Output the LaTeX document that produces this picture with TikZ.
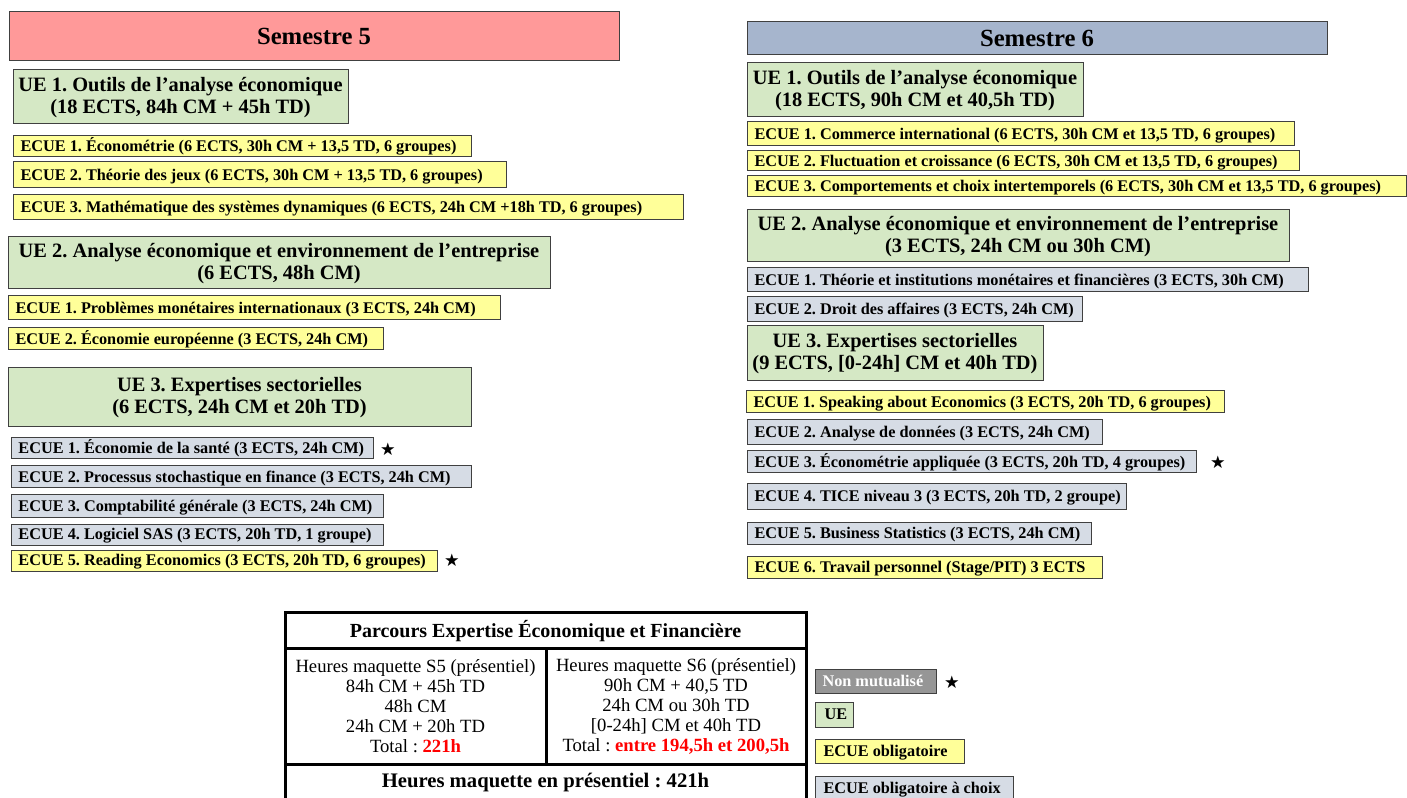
\documentclass[tikz,border=0pt]{standalone}
\usepackage{fontspec}
\setmainfont{Liberation Serif}
\newfontfamily\symbfont{DejaVu Sans}
\frenchspacing

\tikzset{every picture/.style={line width=0.75pt}}
\tikzset{
  boxline/.style={draw={rgb, 255:red, 64; green, 64; blue, 64 }, line width=0.75pt},
  semfive/.style={boxline, fill={rgb, 255:red, 255; green, 153; blue, 153 }},
  semsix/.style={boxline, fill={rgb, 255:red, 166; green, 181; blue, 205 }},
  uefill/.style={boxline, fill={rgb, 255:red, 213; green, 232; blue, 197 }},
  ecueoblig/.style={boxline, fill={rgb, 255:red, 255; green, 255; blue, 153 }},
  ecuechoix/.style={boxline, fill={rgb, 255:red, 214; green, 220; blue, 229 }},
  nonmut/.style={boxline, fill={rgb, 255:red, 150; green, 150; blue, 150 }},
  semtext/.style={inner sep=0pt, text height=15pt, text depth=2.8pt, font=\bfseries\fontsize{18.5}{22}\selectfont},
  uetext/.style={inner sep=0pt, align=center, font=\bfseries\fontsize{15.3}{16.5}\selectfont},
  ecuetext/.style={anchor=west, inner sep=0pt, text height=10.3pt, text depth=2.3pt, font=\bfseries\fontsize{12.2}{14}\selectfont},
  startext/.style={inner sep=0pt, font=\symbfont\fontsize{13}{14}\selectfont},
  celltext/.style={inner sep=0pt, align=center, font=\fontsize{14}{15}\selectfont},
  tabline/.style={line width=2.25pt},
}

\begin{document}
\begin{tikzpicture}[x=0.75pt,y=0.75pt,yscale=-1,xscale=1]
\path[use as bounding box] (0,0) rectangle (1407,798);
\clip (0,0) rectangle (1407,798);

%%%%%%%%%%%%%%%%%%%%%% Semestre 5
%Shape: Rectangle
\draw [semfive] (9,12) rectangle (619,61);
% Text Node
\node (sfivehead) at (314,36.5) [semtext] {Semestre 5};

%Shape: Rectangle
\draw [uefill] (13,70) rectangle (348,124);
% Text Node
\node (sfiveueone) at (180.5,97.5) [uetext] {UE 1. Outils de l’analyse économique\\(18 ECTS, 84h CM + 45h TD)};
%Shape: Rectangle
\draw [ecueoblig] (13,136) rectangle (471,157);
\node (sfiveueonea) at (20,146.5) [ecuetext] {ECUE 1. Économétrie (6 ECTS, 30h CM + 13,5 TD, 6 groupes)};
%Shape: Rectangle
\draw [ecueoblig] (13,162) rectangle (506,188);
\node (sfiveueoneb) at (20,175) [ecuetext] {ECUE 2. Théorie des jeux (6 ECTS, 30h CM + 13,5 TD, 6 groupes)};
%Shape: Rectangle
\draw [ecueoblig] (13,195) rectangle (683,220);
\node (sfiveueonec) at (20,207.5) [ecuetext] {ECUE 3. Mathématique des systèmes dynamiques (6 ECTS, 24h CM +18h TD, 6 groupes)};

%Shape: Rectangle
\draw [uefill] (8,237) rectangle (550,289);
% Text Node
\node (sfiveuetwo) at (279,263.5) [uetext] {UE 2. Analyse économique et environnement de l’entreprise\\(6 ECTS, 48h CM)};
%Shape: Rectangle
\draw [ecueoblig] (8,296) rectangle (500,320);
\node (sfiveuetwoa) at (15,308) [ecuetext] {ECUE 1. Problèmes monétaires internationaux (3 ECTS, 24h CM)};
%Shape: Rectangle
\draw [ecueoblig] (8,328) rectangle (383,350);
\node (sfiveuetwob) at (15,339) [ecuetext] {ECUE 2. Économie européenne (3 ECTS, 24h CM)};

%Shape: Rectangle
\draw [uefill] (8,368) rectangle (471,427);
% Text Node
\node (sfiveuethree) at (239.5,398) [uetext] {UE 3. Expertises sectorielles\\(6 ECTS, 24h CM et 20h TD)};
%Shape: Rectangle
\draw [ecuechoix] (11,438) rectangle (373,459);
\node (sfiveuethreea) at (18,448.5) [ecuetext] {ECUE 1. Économie de la santé (3 ECTS, 24h CM)};
\node (stara) at (388,449) [startext] {★};
%Shape: Rectangle
\draw [ecuechoix] (11,466) rectangle (471,488);
\node (sfiveuethreeb) at (18,477) [ecuetext] {ECUE 2. Processus stochastique en finance (3 ECTS, 24h CM)};
%Shape: Rectangle
\draw [ecuechoix] (11,495) rectangle (383,517);
\node (sfiveuethreec) at (18,506) [ecuetext] {ECUE 3. Comptabilité générale (3 ECTS, 24h CM)};
%Shape: Rectangle
\draw [ecuechoix] (11,524) rectangle (383,545);
\node (sfiveuethreed) at (18,534.5) [ecuetext] {ECUE 4. Logiciel SAS (3 ECTS, 20h TD, 1 groupe)};
%Shape: Rectangle
\draw [ecueoblig] (11,550) rectangle (437,571);
\node (sfiveuethreee) at (18,560.5) [ecuetext] {ECUE 5. Reading Economics (3 ECTS, 20h TD, 6 groupes)};
\node (starb) at (452,560) [startext] {★};

%%%%%%%%%%%%%%%%%%%%%% Semestre 6
%Shape: Rectangle
\draw [semsix] (747,22) rectangle (1327,55);
% Text Node
\node (ssixhead) at (1037,38.5) [semtext] {Semestre 6};

%Shape: Rectangle
\draw [uefill] (747,63) rectangle (1083,117);
% Text Node
\node (ssixueone) at (915,90.5) [uetext] {UE 1. Outils de l’analyse économique\\(18 ECTS, 90h CM et 40,5h TD)};
%Shape: Rectangle
\draw [ecueoblig] (747,122) rectangle (1294,146);
\node (ssixueonea) at (754,134) [ecuetext] {ECUE 1. Commerce international (6 ECTS, 30h CM et 13,5 TD, 6 groupes)};
%Shape: Rectangle
\draw [ecueoblig] (747,151) rectangle (1299,171);
\node (ssixueoneb) at (754,161) [ecuetext] {ECUE 2. Fluctuation et croissance (6 ECTS, 30h CM et 13,5 TD, 6 groupes)};
%Shape: Rectangle
\draw [ecueoblig] (747,176) rectangle (1406,197);
\node (ssixueonec) at (754,186.5) [ecuetext] {ECUE 3. Comportements et choix intertemporels (6 ECTS, 30h CM et 13,5 TD, 6 groupes)};

%Shape: Rectangle
\draw [uefill] (747,210) rectangle (1289,262);
% Text Node
\node (ssixuetwo) at (1018,236.5) [uetext] {UE 2. Analyse économique et environnement de l’entreprise\\(3 ECTS, 24h CM ou 30h CM)};
%Shape: Rectangle
\draw [ecuechoix] (747,268) rectangle (1308,292);
\node (ssixuetwoa) at (754,280) [ecuetext] {ECUE 1. Théorie et institutions monétaires et financières (3 ECTS, 30h CM)};
%Shape: Rectangle
\draw [ecuechoix] (747,297) rectangle (1082,322);
\node (ssixuetwob) at (754,309.5) [ecuetext] {ECUE 2. Droit des affaires (3 ECTS, 24h CM)};

%Shape: Rectangle
\draw [uefill] (747,326) rectangle (1043,381);
% Text Node
\node (ssixuethree) at (895,354) [uetext] {UE 3. Expertises sectorielles\\(9 ECTS, [0-24h] CM et 40h TD)};
%Shape: Rectangle
\draw [ecueoblig] (746,391) rectangle (1224,413);
\node (ssixuethreea) at (753,402) [ecuetext] {ECUE 1. Speaking about Economics (3 ECTS, 20h TD, 6 groupes)};
%Shape: Rectangle
\draw [ecuechoix] (747,420) rectangle (1102,445);
\node (ssixuethreeb) at (754,432.5) [ecuetext] {ECUE 2. Analyse de données (3 ECTS, 24h CM)};
%Shape: Rectangle
\draw [ecuechoix] (747,451) rectangle (1196,473);
\node (ssixuethreec) at (754,462) [ecuetext] {ECUE 3. Économétrie appliquée (3 ECTS, 20h TD, 4 groupes)};
\node (starc) at (1218,462) [startext] {★};
%Shape: Rectangle
\draw [ecuechoix] (747,484) rectangle (1126,509);
\node (ssixuethreed) at (754,496.5) [ecuetext] {ECUE 4. TICE niveau 3 (3 ECTS, 20h TD, 2 groupe)};
%Shape: Rectangle
\draw [ecuechoix] (747,522) rectangle (1091,544);
\node (ssixuethreee) at (754,533) [ecuetext] {ECUE 5. Business Statistics (3 ECTS, 24h CM)};
%Shape: Rectangle
\draw [ecueoblig] (747,556) rectangle (1102,578);
\node (ssixuethreef) at (754,567) [ecuetext] {ECUE 6. Travail personnel (Stage/PIT) 3 ECTS};

%%%%%%%%%%%%%%%%%%%%%% Table
%Shape: Rectangle
\draw [tabline] (285,612) rectangle (806,812);
\draw [tabline] (285,648) -- (806,648);
\draw [tabline] (285,764) -- (806,764);
\draw [tabline] (546,648) -- (546,764);
% Text Node
\node (tabtitle) at (545.5,631) [inner sep=0pt, font=\bfseries\fontsize{15}{18}\selectfont] {Parcours Expertise Économique et Financière};
% Text Node
\node (tabsfive) at (415.5,706) [celltext] {Heures maquette S5 (présentiel)\\84h CM + 45h TD\\48h CM\\24h CM + 20h TD\\Total : \textcolor[RGB]{255,0,0}{\bfseries 221h}};
% Text Node
\node (tabssix) at (676,706) [celltext] {Heures maquette S6 (présentiel)\\90h CM + 40,5 TD\\24h CM ou 30h TD\\{[0-24h]} CM et 40h TD\\Total : \textcolor[RGB]{255,0,0}{\bfseries entre 194,5h et 200,5h}};
% Text Node
\node (tabtotal) at (545.5,783) [inner sep=0pt, font=\bfseries\fontsize{15.5}{18}\selectfont] {Heures maquette en présentiel : 421h};

%%%%%%%%%%%%%%%%%%%%%% Legend
%Shape: Rectangle
\draw [nonmut] (815,669) rectangle (936,693);
\node (legnonmut) at (822,681) [ecuetext, text=white] {Non mutualisé};
\node (stard) at (952,682) [startext] {★};
%Shape: Rectangle
\draw [uefill] (815,702) rectangle (853,727);
\node (legue) at (824,714.5) [ecuetext] {UE};
%Shape: Rectangle
\draw [ecueoblig] (815,739) rectangle (964,763);
\node (legoblig) at (823,751) [ecuetext] {ECUE obligatoire};
%Shape: Rectangle
\draw [ecuechoix] (815,776) rectangle (1013,812);
\node (legchoix) at (823,788) [ecuetext] {ECUE obligatoire à choix};

\end{tikzpicture}
\end{document}
